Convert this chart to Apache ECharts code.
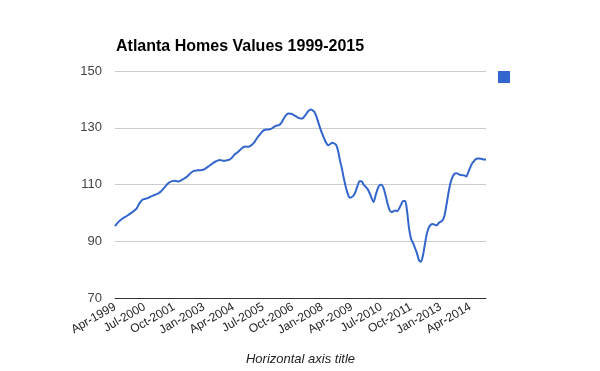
<!DOCTYPE html>
<html>
<head>
<meta charset="utf-8">
<script src="https://cdn.jsdelivr.net/npm/echarts@6/dist/echarts.min.js"></script>
<style>html,body{margin:0;padding:0;background:#fff;}#c{width:600px;height:371px;}</style>
</head>
<body>
<div id="c"></div>
<script>
var startYear = 1999, startMonth = 3; // April (0-based)
var monthNames = ['Jan','Feb','Mar','Apr','May','Jun','Jul','Aug','Sep','Oct','Nov','Dec'];
var yTicks = [70, 90, 110, 130, 150];
var values = [
95.3,96.2,97.0,97.6,98.1,98.5,98.9,99.4,99.9,100.4,100.9,101.6,
102.9,104.0,104.7,104.9,105.1,105.3,105.7,106.0,106.3,106.6,106.9,107.4,
108.1,108.9,109.7,110.4,110.9,111.2,111.3,111.2,111.1,111.3,111.7,112.1,
112.5,113.1,113.8,114.4,114.8,114.9,115.0,115.0,115.1,115.3,115.7,116.2,
116.7,117.2,117.7,118.1,118.4,118.6,118.5,118.4,118.4,118.6,118.8,119.3,
120.1,120.8,121.3,121.9,122.6,123.2,123.4,123.3,123.4,123.8,124.4,125.3,
126.4,127.3,128.1,128.9,129.3,129.4,129.4,129.6,130.0,130.5,130.8,130.9,
131.5,132.6,133.8,134.7,135.0,134.9,134.7,134.3,133.9,133.5,133.3,133.3,
134.0,135.0,135.9,136.4,136.2,135.6,134.1,131.9,129.8,127.9,126.2,124.7,
123.8,124.2,124.7,124.5,124.0,122.0,118.5,115.5,112.0,109.0,106.6,105.3,
105.6,106.2,107.7,109.8,111.2,111.1,109.9,109.2,108.4,107.0,105.3,103.8,
106.0,108.3,109.7,109.9,108.9,106.5,103.6,101.2,100.3,100.5,100.8,100.6,
101.5,103.0,104.2,104.2,100.6,94.5,91.0,89.4,87.7,85.8,83.4,82.8,
84.8,88.8,92.6,94.8,95.8,96.1,95.8,95.6,96.4,96.9,97.4,99.2,
102.9,107.1,110.5,112.6,113.8,114.0,113.7,113.4,113.3,113.2,112.8,114.3,
116.0,117.5,118.3,119.0,119.2,119.1,119.0,118.8,118.8
];
var categories = [];
for (var i = 0; i < values.length; i++) {
  var t = startMonth + i;
  categories.push(monthNames[t % 12] + '-' + (startYear + Math.floor(t / 12)));
}
var chart = echarts.init(document.getElementById('c'), null, {renderer: 'canvas'});
chart.setOption({
  animation: false,
  textStyle: {fontFamily: '"Liberation Sans", Arial, sans-serif'},
  title: {
    text: 'Atlanta Homes Values 1999-2015',
    left: 111, top: 34,
    textStyle: {fontSize: 16, fontWeight: 'bold', color: '#000', fontFamily: '"Liberation Sans", Arial, sans-serif'}
  },
  legend: {
    left: 493, top: 66, itemWidth: 12, itemHeight: 12, icon: 'rect',
    data: [{name: ' '}],
    textStyle: {fontSize: 1}
  },
  grid: {left: 115, right: 114, top: 71, bottom: 72, containLabel: false},
  xAxis: {
    type: 'category', data: categories, boundaryGap: false,
    axisLine: {lineStyle: {color: '#333', width: 1}},
    axisTick: {show: false},
    axisLabel: {interval: 14, rotate: 30, color: '#222', fontSize: 12, margin: 8},
    name: 'Horizontal axis title', nameLocation: 'middle', nameGap: 55,
    nameTextStyle: {fontStyle: 'italic', fontSize: 13, color: '#222'}
  },
  yAxis: {
    type: 'value', min: yTicks[0], max: yTicks[yTicks.length - 1], interval: 20,
    axisLine: {show: false}, axisTick: {show: false},
    axisLabel: {color: '#444', fontSize: 13, margin: 13},
    splitLine: {lineStyle: {color: '#ccc', width: 1}}
  },
  series: [{
    name: ' ', type: 'line', data: values, smooth: 0.3, showSymbol: false,
    lineStyle: {color: '#3366cc', width: 2}, itemStyle: {color: '#3366cc'}
  }]
});
</script>
</body>
</html>
